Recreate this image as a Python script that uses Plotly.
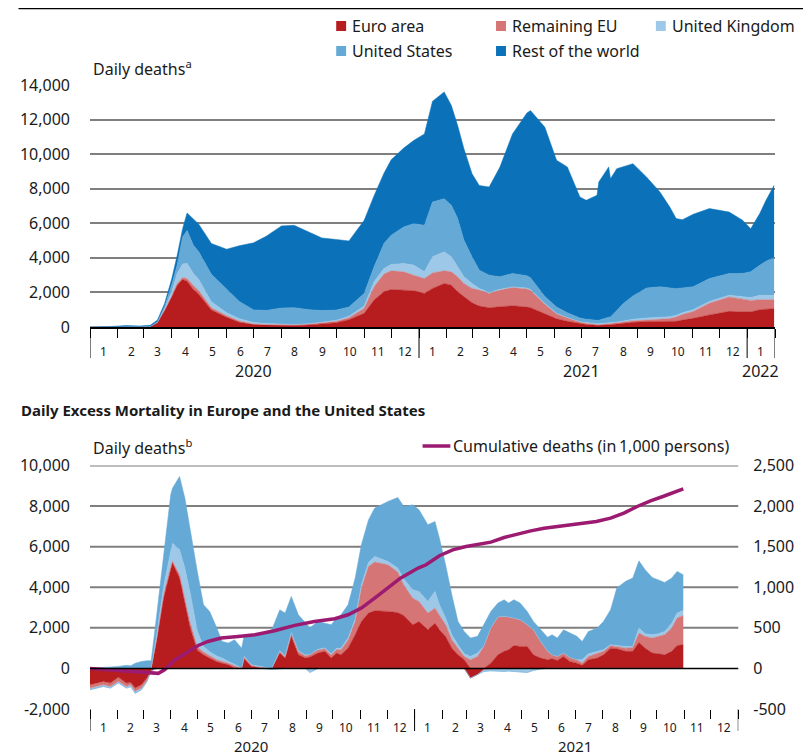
import numpy as np
import pandas as pd
import plotly.graph_objects as go

# ---------------- Top chart: daily COVID-19 deaths ----------------
top_dates = [
    "2020-01-01", "2020-01-22", "2020-02-10", "2020-02-25", "2020-03-08", "2020-03-16",
    "2020-03-24", "2020-04-01", "2020-04-07", "2020-04-13", "2020-04-18", "2020-04-25",
    "2020-05-01", "2020-05-15", "2020-06-01", "2020-06-15", "2020-07-01", "2020-07-15",
    "2020-08-01", "2020-08-15", "2020-09-01", "2020-09-15", "2020-10-01", "2020-10-15",
    "2020-11-01", "2020-11-12", "2020-11-23", "2020-12-01", "2020-12-15", "2020-12-26",
    "2021-01-07", "2021-01-16", "2021-01-29", "2021-02-06", "2021-02-13", "2021-02-20",
    "2021-03-01", "2021-03-09", "2021-03-20", "2021-04-01", "2021-04-15", "2021-05-01",
    "2021-05-05", "2021-05-21", "2021-06-03", "2021-06-15", "2021-06-29", "2021-07-06",
    "2021-07-18", "2021-07-20", "2021-07-31", "2021-08-02", "2021-08-09", "2021-08-16",
    "2021-08-27", "2021-09-11", "2021-09-26", "2021-10-07", "2021-10-14", "2021-10-21",
    "2021-11-02", "2021-11-20", "2021-12-12", "2021-12-27", "2022-01-05", "2022-01-15",
    "2022-01-22", "2022-01-31",
]
euro_area = [
    0, 0, 0, 0, 30, 250, 950, 1750, 2420, 2750, 2650, 2170,
    1900, 980, 560, 280, 140, 110, 90, 90, 120, 170, 250, 420,
    790, 1560, 2040, 2170, 2130, 2100, 1940, 2230, 2520, 2420, 2040, 1750,
    1400, 1210, 1115, 1170, 1230, 1150, 1120, 760, 480, 330, 190, 140,
    96, 96, 130, 135, 170, 210, 270, 310, 320, 290, 330, 400,
    500, 700, 905, 870, 870, 1000, 1030, 1060,
]
remaining_eu = [
    0, 0, 0, 0, 0, 10, 40, 60, 100, 115, 150, 230,
    200, 135, 95, 70, 40, 40, 40, 45, 60, 70, 80, 120,
    290, 770, 1020, 1080, 1060, 900, 870, 900, 730, 770, 860, 770,
    830, 925, 825, 965, 1060, 1050, 1000, 560, 290, 200, 100, 80,
    39, 40, 55, 55, 70, 80, 90, 90, 120, 200, 250, 320,
    400, 680, 835, 750, 670, 580, 550, 520,
]
united_kingdom = [
    0, 0, 0, 0, 0, 20, 80, 250, 580, 785, 880, 700,
    650, 345, 175, 130, 80, 50, 20, 15, 15, 30, 55, 80,
    130, 290, 320, 370, 480, 580, 390, 930, 1100, 870, 580, 380,
    290, 95, 60, 45, 30, 60, 50, 40, 20, 15, 20, 30,
    55, 55, 40, 40, 50, 60, 90, 120, 120, 110, 95, 110,
    100, 100, 100, 140, 160, 250, 250, 250,
]
united_states = [
    0, 0, 0, 0, 0, 20, 120, 400, 480, 1550, 1900, 1630,
    1600, 1590, 1340, 1000, 730, 760, 950, 970, 805, 680, 595, 530,
    730, 860, 1450, 1690, 2120, 2400, 2680, 3170, 3070, 2980, 2790, 2120,
    1540, 1060, 1000, 720, 780, 700, 680, 400, 370, 275, 210, 200,
    195, 200, 340, 350, 660, 1000, 1350, 1730, 1770, 1650, 1545, 1430,
    1330, 1320, 1250, 1340, 1500, 1740, 1970, 2180,
]
rest_of_world = [
    0, 20, 90, 60, 70, 100, 175, 340, 570, 490, 1020, 1540,
    1600, 1780, 2330, 3220, 3880, 4290, 4750, 4760, 4500, 4200, 4080, 3830,
    4230, 4120, 4070, 4360, 4560, 4810, 5290, 5830, 6180, 5770, 5380, 5290,
    4805, 4900, 5100, 6350, 8070, 9420, 9670, 9800, 8490, 8440, 7000, 6880,
    7235, 7999, 8695, 8000, 8210, 7910, 7650, 6430, 5480, 4690, 4050, 3950,
    4190, 4050, 3560, 3070, 2490, 2990, 3530, 4190,
]

# ---------------- Bottom chart: daily excess mortality ----------------
excess_dates = [
    "2020-01-01", "2020-01-16", "2020-01-24", "2020-02-02", "2020-02-11", "2020-02-16",
    "2020-02-21", "2020-02-28", "2020-03-05", "2020-03-10", "2020-03-16", "2020-03-24",
    "2020-04-01", "2020-04-03", "2020-04-11", "2020-04-17", "2020-04-23", "2020-05-01",
    "2020-05-08", "2020-05-15", "2020-05-23", "2020-05-29", "2020-06-05", "2020-06-12",
    "2020-06-20", "2020-06-23", "2020-07-01", "2020-07-12", "2020-07-24", "2020-08-02",
    "2020-08-08", "2020-08-15", "2020-08-23", "2020-08-31", "2020-09-05", "2020-09-14",
    "2020-09-22", "2020-09-29", "2020-10-05", "2020-10-10", "2020-10-18", "2020-10-26",
    "2020-11-02", "2020-11-10", "2020-11-17", "2020-12-02", "2020-12-13", "2020-12-20",
    "2020-12-30", "2021-01-06", "2021-01-16", "2021-01-24", "2021-01-29", "2021-02-05",
    "2021-02-12", "2021-02-19", "2021-02-26", "2021-03-05", "2021-03-13", "2021-03-20",
    "2021-03-28", "2021-04-05", "2021-04-12", "2021-04-17", "2021-04-23", "2021-04-30",
    "2021-05-08", "2021-05-15", "2021-05-23", "2021-05-31", "2021-06-05", "2021-06-11",
    "2021-06-18", "2021-06-25", "2021-07-03", "2021-07-09", "2021-07-16", "2021-07-26",
    "2021-08-02", "2021-08-10", "2021-08-17", "2021-08-27", "2021-09-04", "2021-09-11",
    "2021-09-18", "2021-09-26", "2021-10-03", "2021-10-10", "2021-10-18", "2021-10-24",
    "2021-10-31",
]
excess_euro_area = [
    -800, -640, -720, -440, -720, -690, -970, -800, -480, -100, 1330, 3460,
    4860, 5190, 4450, 3300, 1990, 900, 670, 500, 330, 260, 180, 15,
    -30, 475, 100, 15, 0, 755, 500, 1575, 670, 510, 560, 755,
    840, 510, 755, 670, 1000, 1660, 2315, 2725, 2840, 2810, 2750, 2600,
    2150, 2315, 1900, 2230, 1900, 1575, 1000, 670, 430, -475, -300, -50,
    260, 670, 840, 920, 1130, 1085, 1085, 670, 510, 430, 475, 395,
    590, 345, 260, 150, 430, 510, 670, 1000, 970, 840, 840, 1280,
    1000, 755, 720, 670, 840, 1130, 1165,
]
excess_remaining_eu = [
    -170, -160, -170, -200, -170, -110, -160, -170, -130, -30, 80, 165,
    160, 100, 165, 160, 240, 150, 135, 120, 100, 85, 80, 115,
    0, 65, 50, 35, 0, 80, 80, 150, 150, 120, 120, 150,
    130, 150, 180, 250, 400, 650, 1640, 2300, 2400, 2300, 2000, 1500,
    1310, 985, 825, 740, 740, 575, 410, 330, 160, 430, 590, 1085,
    1730, 1860, 1720, 1610, 1350, 1315, 1065, 1230, 820, 410, 195, 195,
    165, 195, 170, 110, 160, 245, 170, 115, 115, 160, 195, 460,
    575, 745, 855, 990, 1150, 1350, 1445,
]
excess_united_kingdom = [
    -80, -90, -80, -80, -80, -100, -100, -80, -60, 0, 170, 410,
    740, 880, 1235, 1480, 1480, 800, 280, 200, 180, 165, 85, 80,
    0, 50, 30, 30, -50, 30, 30, 50, 40, 30, -200, 40,
    40, 50, 60, 70, 100, 120, 150, 200, 280, 160, 200, 300,
    415, 490, 575, 820, 495, 330, 250, 165, 130, 160, 165, -100,
    -120, -150, -150, -130, -150, -140, -200, -100, -30, 0, 0, 0,
    0, 0, 0, 170, 130, 85, 80, 50, 45, 85, 50, 250,
    135, 160, 135, 160, 240, 245, 250,
]
excess_united_states = [
    0, 30, 65, 100, 150, 130, 250, 345, 380, 380, 980, 1565,
    2795, 2710, 3610, 3450, 3040, 2930, 2050, 1980, 1380, 820, 905, 1200,
    1000, 1070, 1480, 1660, 1900, 2025, 2115, 1775, 1780, 1570, 1320, 1370,
    1220, 1440, 1485, 1650, 1635, 2020, 1985, 2095, 2380, 2960, 3470, 3580,
    4185, 4025, 3780, 3450, 3285, 2630, 1970, 1150, 1100, 910, 825, 1065,
    820, 690, 820, 690, 900, 820, 660, 415, 570, 690, 990, 910,
    1145, 1200, 1150, 900, 1100, 1150, 1395, 1725, 2830, 3205, 3365, 3310,
    3150, 2820, 2660, 2420, 2220, 2055, 1750,
]

cum_dates = [
    "2020-01-01", "2020-02-07", "2020-03-07", "2020-03-18", "2020-03-25", "2020-04-06",
    "2020-04-21", "2020-05-02", "2020-05-13", "2020-05-28", "2020-06-16", "2020-07-05",
    "2020-07-27", "2020-08-19", "2020-09-10", "2020-10-03", "2020-10-18", "2020-11-02",
    "2020-11-17", "2020-12-02", "2020-12-16", "2021-01-05", "2021-01-14", "2021-01-29",
    "2021-02-13", "2021-02-28", "2021-03-13", "2021-03-28", "2021-04-12", "2021-04-27",
    "2021-05-12", "2021-05-27", "2021-06-11", "2021-06-26", "2021-07-10", "2021-07-25",
    "2021-08-10", "2021-08-25", "2021-09-09", "2021-09-24", "2021-10-08", "2021-10-23",
    "2021-10-31",
]
cum_deaths_thousands = [
    0, -29, -57, -61, -16, 107, 209, 283, 332, 374, 394, 415,
    464, 530, 579, 612, 661, 743, 866, 998, 1112, 1236, 1277, 1388,
    1461, 1502, 1523, 1556, 1613, 1658, 1695, 1728, 1749, 1769, 1790, 1810,
    1851, 1913, 1995, 2065, 2118, 2180, 2213,
]

top_y_ticks = [0, 2000, 4000, 6000, 8000, 10000, 12000, 14000]
left_y_ticks = [-2000, 0, 2000, 4000, 6000, 8000, 10000]
right_y_ticks = [-500, 0, 500, 1000, 1500, 2000, 2500]

# ---------------- styling ----------------
FONT = "Noto Sans"
TXT = "#1a1a1a"
C_EURO = "#B71C1F"
C_REMEU = "#D67575"
C_UK = "#9EC8E8"
C_US = "#65A9D6"
C_ROW = "#0B72B9"
C_LINE = "#9C1B70"
GRID = "#7f7f7f"

# the page body adds an 8px offset; the figure is sized to compensate
OFF = 8
W, H = 811 - OFF, 756 - OFF
ML, MT = 85 - OFF, 85 - OFF
MR = W - (775 - OFF)
MB = H - (709 - OFF)
PW, PH = 690, 624


def pxx(x):
    """reference-screen x pixel -> paper fraction"""
    return (x - 85) / PW


def pxy(y):
    """reference-screen y pixel -> paper fraction"""
    return (709 - y) / PH


top_dom = [pxy(327), 1.0]
bot_dom = [0.0, pxy(465.5)]
bot_xdom = [0.0, pxx(738)]

fig = go.Figure()

for name, vals, col in [("Euro area", euro_area, C_EURO), ("Remaining EU", remaining_eu, C_REMEU),
                        ("United Kingdom", united_kingdom, C_UK), ("United States", united_states, C_US),
                        ("Rest of the world", rest_of_world, C_ROW)]:
    fig.add_trace(go.Scatter(x=top_dates, y=vals, name=name, stackgroup="top", mode="lines",
                             line=dict(width=0.5, color=col), fillcolor=col,
                             xaxis="x", yaxis="y", showlegend=False, hoverinfo="skip"))

for grp, fn in [("pos", lambda a: np.clip(np.array(a, dtype=float), 0, None)),
                ("neg", lambda a: np.clip(np.array(a, dtype=float), None, 0))]:
    for name, vals, col in [("Euro area", excess_euro_area, C_EURO),
                            ("Remaining EU", excess_remaining_eu, C_REMEU),
                            ("United Kingdom", excess_united_kingdom, C_UK),
                            ("United States", excess_united_states, C_US)]:
        fig.add_trace(go.Scatter(x=excess_dates, y=fn(vals), name=name, stackgroup="ex_" + grp,
                                 mode="lines", line=dict(width=0.5, color=col), fillcolor=col,
                                 xaxis="x2", yaxis="y2", showlegend=False, hoverinfo="skip"))

fig.add_trace(go.Scatter(x=cum_dates, y=cum_deaths_thousands, mode="lines",
                         line=dict(color=C_LINE, width=3.5), xaxis="x2", yaxis="y3",
                         showlegend=False, hoverinfo="skip"))

top_month_starts = pd.date_range("2020-01-01", "2022-02-01", freq="MS")
bot_month_starts = pd.date_range("2020-01-01", "2022-01-01", freq="MS")


def fmt(v):
    s = f"{abs(v):,}"
    return ("-" + s) if v < 0 else s


fig.update_layout(
    width=W, height=H,
    margin=dict(l=ML, r=MR, t=MT, b=MB, pad=0),
    paper_bgcolor="white", plot_bgcolor="white",
    font=dict(family=FONT, color=TXT, size=16),
    showlegend=False,
    xaxis=dict(domain=[0, 1], anchor="y", type="date", range=["2020-01-01", "2022-02-01"],
               tickvals=list(top_month_starts), showticklabels=False, ticks="outside",
               ticklen=9, tickwidth=1, tickcolor="black", showline=True, linecolor="black",
               linewidth=1.5, showgrid=False, zeroline=False, layer="above traces"),
    yaxis=dict(domain=top_dom, anchor="x", range=[0, 14000], tickvals=top_y_ticks,
               ticktext=[fmt(v) for v in top_y_ticks], showgrid=True, gridcolor=GRID,
               gridwidth=2, zeroline=False, ticks="", showline=False, ticklabelstandoff=19,
               tickfont=dict(size=16)),
    xaxis2=dict(domain=bot_xdom, anchor="y2", type="date", range=["2020-01-01", "2022-01-01"],
                tickvals=list(bot_month_starts), showticklabels=False, ticks="outside",
                ticklen=9, tickwidth=1, tickcolor="black", showline=False, showgrid=False,
                zeroline=False),
    yaxis2=dict(domain=bot_dom, anchor="x2", range=[-2000, 10000], tickvals=left_y_ticks,
                ticktext=[fmt(v) for v in left_y_ticks], showgrid=False, zeroline=False,
                ticks="", showline=False, ticklabelstandoff=19, tickfont=dict(size=16)),
    yaxis3=dict(overlaying="y2", anchor="x2", side="right", range=[-500, 2500],
                tickvals=right_y_ticks, ticktext=[fmt(v) for v in right_y_ticks],
                showgrid=False, zeroline=False, ticks="", showline=False,
                ticklabelstandoff=14, tickfont=dict(size=16)),
)

shapes = []
annotations = []

# bottom gridlines and zero line
for v in left_y_ticks:
    if v > 0:
        shapes.append(dict(type="line", xref="x2 domain", x0=0, x1=1, yref="y2", y0=v, y1=v,
                           line=dict(color=GRID, width=2), layer="below"))
shapes.append(dict(type="line", xref="x2 domain", x0=0, x1=1, yref="y2", y0=0, y1=0,
                   line=dict(color="black", width=1.5), layer="above"))

# year dividers
for d in ["2020-01-01", "2021-01-01", "2022-01-01", "2022-02-01"]:
    shapes.append(dict(type="line", xref="x", x0=d, x1=d, yref="paper", y0=top_dom[0],
                       y1=pxy(358), line=dict(color="black", width=1)))
for d in ["2020-01-01", "2021-01-01", "2022-01-01"]:
    shapes.append(dict(type="line", xref="x2", x0=d, x1=d, yref="paper", y0=0,
                       y1=pxy(731), line=dict(color="black", width=1)))

# month labels
for d in top_month_starts[:-1]:
    annotations.append(dict(x=d + pd.Timedelta(days=15), xref="x", y=pxy(351), yref="paper",
                            text=str(d.month), showarrow=False, font=dict(size=12),
                            xanchor="center", yanchor="middle"))
for d in bot_month_starts[:-1]:
    annotations.append(dict(x=d + pd.Timedelta(days=15), xref="x2", y=pxy(728), yref="paper",
                            text=str(d.month), showarrow=False, font=dict(size=12),
                            xanchor="center", yanchor="middle"))
for yr, xr, yy, fs in [("2020", "x", 371, 16), ("2021", "x", 371, 16), ("2022", "x", 371, 16),
                       ("2020", "x2", 746, 15), ("2021", "x2", 746, 15)]:
    xc = "2022-01-16" if yr == "2022" else yr + "-07-01"
    annotations.append(dict(x=xc, xref=xr, y=pxy(yy), yref="paper", text=yr, showarrow=False,
                            font=dict(size=fs), xanchor="center", yanchor="middle"))

# axis captions
annotations.append(dict(x=pxx(86), y=pxy(68), xref="paper", yref="paper",
                        text="Daily deaths<sup>a</sup>", showarrow=False, xanchor="left",
                        yanchor="middle", font=dict(size=16)))
annotations.append(dict(x=pxx(86), y=pxy(447), xref="paper", yref="paper",
                        text="Daily deaths<sup>b</sup>", showarrow=False, xanchor="left",
                        yanchor="middle", font=dict(size=16)))

# bottom title
annotations.append(dict(x=pxx(13), y=pxy(410), xref="paper", yref="paper",
                        text="<b>Daily Excess Mortality in Europe and the United States</b>",
                        showarrow=False, xanchor="left", yanchor="middle", font=dict(size=15)))

# top rule
shapes.append(dict(type="line", xref="paper", yref="paper", x0=pxx(13), x1=pxx(808),
                   y0=pxy(8), y1=pxy(8), line=dict(color="black", width=2.5)))

# top legend
leg = [("Euro area", C_EURO, 333, 26), ("Remaining EU", C_REMEU, 494, 26),
       ("United Kingdom", C_UK, 655, 26), ("United States", C_US, 333, 51),
       ("Rest of the world", C_ROW, 494, 51)]
for name, col, lx, ly in leg:
    shapes.append(dict(type="rect", xref="paper", yref="paper", x0=pxx(lx), x1=pxx(lx + 10),
                       y0=pxy(ly + 5), y1=pxy(ly - 5), fillcolor=col, line=dict(width=0)))
    annotations.append(dict(x=pxx(lx + 14), y=pxy(ly), xref="paper", yref="paper", text=name,
                            showarrow=False, xanchor="left", yanchor="middle",
                            font=dict(size=16)))

# bottom legend
shapes.append(dict(type="line", xref="paper", yref="paper", x0=pxx(420), x1=pxx(448),
                   y0=pxy(446), y1=pxy(446), line=dict(color=C_LINE, width=3.5)))
annotations.append(dict(x=pxx(449), y=pxy(446), xref="paper", yref="paper",
                        text="Cumulative deaths (in\u20091,000 persons)", showarrow=False,
                        xanchor="left", yanchor="middle", font=dict(size=16)))

fig.update_layout(shapes=shapes, annotations=annotations)
fig.write_html("out.html")
